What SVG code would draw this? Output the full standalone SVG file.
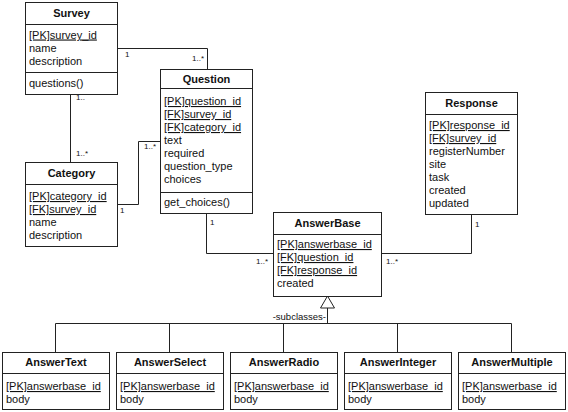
<svg xmlns="http://www.w3.org/2000/svg" width="568" height="412" viewBox="0 0 568 412">
<style>
.box{fill:#fff;stroke:#222;stroke-width:1}
.div{stroke:#222;stroke-width:1}
.t{font-family:"Liberation Sans",Arial,sans-serif;font-size:11px;fill:#111}
.h{font-family:"Liberation Sans",Arial,sans-serif;font-size:11px;font-weight:bold;fill:#111;text-anchor:middle}
.u{text-decoration:underline}
.lbl{font-family:"Liberation Sans",Arial,sans-serif;font-size:8px;fill:#111}
.sub{font-family:"Liberation Sans",Arial,sans-serif;font-size:9.5px;fill:#111}
.c{fill:none;stroke:#222;stroke-width:1}
</style>
<rect width="568" height="412" fill="#fff"/>
<g id="connectors">
<polyline class="c" points="117,48.5 207.5,48.5 207.5,69"/>
<line class="c" x1="70.5" y1="94" x2="70.5" y2="162"/>
<polyline class="c" points="117,204.5 138.5,204.5 138.5,141.5 160,141.5"/>
<polyline class="c" points="206.5,213 206.5,253.5 273,253.5"/>
<polyline class="c" points="471.5,214 471.5,253.5 381,253.5"/>
<polygon points="327.5,296 320.5,308 334.5,308" fill="#fff" stroke="#222"/>
<line class="c" x1="327.5" y1="308" x2="327.5" y2="323.5"/>
<line class="c" x1="55.5" y1="323.5" x2="511.5" y2="323.5"/>
<line class="c" x1="55.5" y1="323.5" x2="55.5" y2="352"/>
<line class="c" x1="169.5" y1="323.5" x2="169.5" y2="352"/>
<line class="c" x1="283.5" y1="323.5" x2="283.5" y2="352"/>
<line class="c" x1="397.5" y1="323.5" x2="397.5" y2="352"/>
<line class="c" x1="511.5" y1="323.5" x2="511.5" y2="352"/>
<text class="lbl" x="125" y="57">1</text>
<text class="lbl" x="192" y="61">1..*</text>
<text class="lbl" x="76" y="100">1..</text>
<text class="lbl" x="76" y="156">1..*</text>
<text class="lbl" x="120" y="213">1</text>
<text class="lbl" x="144" y="149">1..*</text>
<text class="lbl" x="210" y="225">1</text>
<text class="lbl" x="256" y="264">1..*</text>
<text class="lbl" x="475" y="227">1</text>
<text class="lbl" x="386" y="264">1..*</text>
<text class="sub" x="326" y="320" text-anchor="end">-subclasses-</text>
</g>
<g id="Survey">
<rect class="box" x="25.5" y="2.5" width="92" height="92"/>
<line class="div" x1="25.5" y1="24.5" x2="117.5" y2="24.5"/>
<line class="div" x1="25.5" y1="72.5" x2="117.5" y2="72.5"/>
<text class="h" x="71.5" y="17">Survey</text>
<text class="t u" x="29" y="38.5">[PK]survey_id</text>
<text class="t" x="29" y="52">name</text>
<text class="t" x="29" y="65">description</text>
<text class="t" x="29" y="86.5">questions()</text>
</g>
<g id="Category">
<rect class="box" x="25.5" y="162.5" width="92" height="84"/>
<line class="div" x1="25.5" y1="184.5" x2="117.5" y2="184.5"/>
<text class="h" x="71.5" y="177">Category</text>
<text class="t u" x="29" y="200">[PK]category_id</text>
<text class="t u" x="29" y="213">[FK]survey_id</text>
<text class="t" x="29" y="226">name</text>
<text class="t" x="29" y="239">description</text>
</g>
<g id="Question">
<rect class="box" x="160.5" y="69.5" width="92" height="144"/>
<line class="div" x1="160.5" y1="88.5" x2="252.5" y2="88.5"/>
<line class="div" x1="160.5" y1="192.5" x2="252.5" y2="192.5"/>
<text class="h" x="206.5" y="83">Question</text>
<text class="t u" x="164" y="105">[PK]question_id</text>
<text class="t u" x="164" y="118">[FK]survey_id</text>
<text class="t u" x="164" y="131">[FK]category_id</text>
<text class="t" x="164" y="144">text</text>
<text class="t" x="164" y="157">required</text>
<text class="t" x="164" y="170">question_type</text>
<text class="t" x="164" y="183">choices</text>
<text class="t" x="164" y="206">get_choices()</text>
</g>
<g id="Response">
<rect class="box" x="425.5" y="92.5" width="92" height="122"/>
<line class="div" x1="425.5" y1="114.5" x2="517.5" y2="114.5"/>
<text class="h" x="471.5" y="107">Response</text>
<text class="t u" x="429" y="129">[PK]response_id</text>
<text class="t u" x="429" y="142">[FK]survey_id</text>
<text class="t" x="429" y="155">registerNumber</text>
<text class="t" x="429" y="168">site</text>
<text class="t" x="429" y="181">task</text>
<text class="t" x="429" y="194">created</text>
<text class="t" x="429" y="207">updated</text>
</g>
<g id="AnswerBase">
<rect class="box" x="273.5" y="212.5" width="108" height="84"/>
<line class="div" x1="273.5" y1="234.5" x2="381.5" y2="234.5"/>
<text class="h" x="327.5" y="227">AnswerBase</text>
<text class="t u" x="277" y="248">[PK]answerbase_id</text>
<text class="t u" x="277" y="261">[FK]question_id</text>
<text class="t u" x="277" y="274">[FK]response_id</text>
<text class="t" x="277" y="287">created</text>
</g>
<g id="AnswerText">
<rect class="box" x="2.5" y="352.5" width="107" height="57"/>
<line class="div" x1="2.5" y1="373.5" x2="109.5" y2="373.5"/>
<text class="h" x="56" y="366">AnswerText</text>
<text class="t u" x="6" y="390">[PK]answerbase_id</text>
<text class="t" x="6" y="403">body</text>
</g>
<g id="AnswerSelect">
<rect class="box" x="116.5" y="352.5" width="107" height="57"/>
<line class="div" x1="116.5" y1="373.5" x2="223.5" y2="373.5"/>
<text class="h" x="170" y="366">AnswerSelect</text>
<text class="t u" x="120" y="390">[PK]answerbase_id</text>
<text class="t" x="120" y="403">body</text>
</g>
<g id="AnswerRadio">
<rect class="box" x="230.5" y="352.5" width="107" height="57"/>
<line class="div" x1="230.5" y1="373.5" x2="337.5" y2="373.5"/>
<text class="h" x="284" y="366">AnswerRadio</text>
<text class="t u" x="234" y="390">[PK]answerbase_id</text>
<text class="t" x="234" y="403">body</text>
</g>
<g id="AnswerInteger">
<rect class="box" x="344.5" y="352.5" width="107" height="57"/>
<line class="div" x1="344.5" y1="373.5" x2="451.5" y2="373.5"/>
<text class="h" x="398" y="366">AnswerInteger</text>
<text class="t u" x="348" y="390">[PK]answerbase_id</text>
<text class="t" x="348" y="403">body</text>
</g>
<g id="AnswerMultiple">
<rect class="box" x="458.5" y="352.5" width="107" height="57"/>
<line class="div" x1="458.5" y1="373.5" x2="565.5" y2="373.5"/>
<text class="h" x="512" y="366">AnswerMultiple</text>
<text class="t u" x="462" y="390">[PK]answerbase_id</text>
<text class="t" x="462" y="403">body</text>
</g>
</svg>
